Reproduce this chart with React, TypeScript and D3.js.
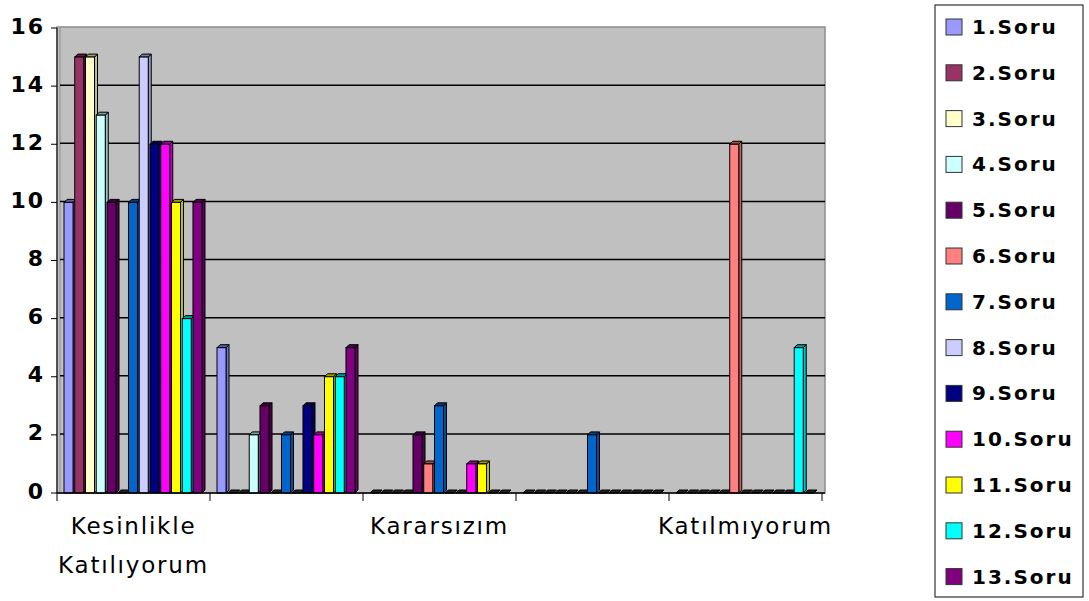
import React from "react";
import * as d3 from "d3";

const categories = [
  "Kesinlikle Katılıyorum",
  "Katılıyorum",
  "Kararsızım",
  "Kesinlikle Katılmıyorum",
  "Katılmıyorum",
];
const shownLabels = [["Kesinlikle", "Katılıyorum"], null, ["Kararsızım"], null, ["Katılmıyorum"]];

const seriesNames = [
  "1.Soru", "2.Soru", "3.Soru", "4.Soru", "5.Soru", "6.Soru", "7.Soru",
  "8.Soru", "9.Soru", "10.Soru", "11.Soru", "12.Soru", "13.Soru",
];
const seriesColors = [
  "#9999FF", "#993366", "#FFFFCC", "#CCFFFF", "#660066", "#FF8080", "#0066CC",
  "#CCCCFF", "#000080", "#FF00FF", "#FFFF00", "#00FFFF", "#800080",
];
const s1 = [10, 5, 0, 0, 0];
const s2 = [15, 0, 0, 0, 0];
const s3 = [15, 0, 0, 0, 0];
const s4 = [13, 2, 0, 0, 0];
const s5 = [10, 3, 2, 0, 0];
const s6 = [0, 0, 1, 0, 12];
const s7 = [10, 2, 3, 2, 0];
const s8 = [15, 0, 0, 0, 0];
const s9 = [12, 3, 0, 0, 0];
const s10 = [12, 2, 1, 0, 0];
const s11 = [10, 4, 1, 0, 0];
const s12 = [6, 4, 0, 0, 5];
const s13 = [10, 5, 0, 0, 0];
const seriesValues = [s1, s2, s3, s4, s5, s6, s7, s8, s9, s10, s11, s12, s13];
const yTicks = [0, 2, 4, 6, 8, 10, 12, 14, 16];

const W = 1089;
const H = 601;
const left = 57;
const right = 822;
const top = 28;
const bottom = 493;
const depth = 3;

export default function App() {
  const x0 = d3.scaleBand<number>().domain(d3.range(categories.length)).range([left, right]).padding(0);
  const x1 = d3
    .scaleBand<number>()
    .domain(d3.range(seriesNames.length))
    .range([7, x0.bandwidth() - 8])
    .paddingInner(0.16)
    .paddingOuter(0);
  const y = d3.scaleLinear().domain([0, 16]).range([bottom, top]);
  const bw = x1.bandwidth();

  const bars: React.ReactNode[] = [];
  categories.forEach((_, ci) => {
    seriesValues.forEach((vals, si) => {
      const v = vals[ci];
      const bx = (x0(ci) as number) + (x1(si) as number);
      const by = y(v);
      const base = y(0);
      const col = d3.color(seriesColors[si])!;
      const darker = col.darker(0.8).formatHex();
      const dark2 = col.darker(1.4).formatHex();
      const key = `${ci}-${si}`;
      if (v === 0) {
        bars.push(
          <polygon
            key={key}
            points={`${bx},${base} ${bx + depth},${base - depth} ${bx + bw + depth},${base - depth} ${bx + bw},${base}`}
            fill="#222"
            stroke="#000"
            strokeWidth={1}
          />
        );
        return;
      }
      bars.push(
        <g key={key} stroke="#000" strokeWidth={1}>
          <polygon
            points={`${bx + bw},${by} ${bx + bw + depth},${by - depth} ${bx + bw + depth},${base - depth} ${bx + bw},${base}`}
            fill={darker}
          />
          <polygon
            points={`${bx},${by} ${bx + depth},${by - depth} ${bx + bw + depth},${by - depth} ${bx + bw},${by}`}
            fill={dark2}
          />
          <rect x={bx} y={by} width={bw} height={base - by} fill={seriesColors[si]} />
        </g>
      );
    });
  });

  const font = "'DejaVu Sans', Verdana, sans-serif";

  return (
    <svg width={W} height={H} style={{ position: "absolute", left: 0, top: 0, background: "#fff" }}>
      {/* back wall */}
      <rect x={left} y={top - 1} width={right - left + 3} height={bottom - top + 1} fill="#C0C0C0" stroke="#8c8c8c" strokeWidth={1.5} />
      <line x1={left + 3} y1={top} x2={left + 3} y2={bottom} stroke="#8c8c8c" strokeWidth={1} />
      {/* gridlines */}
      {yTicks.slice(1, -1).map((t) => (
        <line key={t} x1={left + 3} x2={right + 3} y1={y(t) - 1} y2={y(t) - 1} stroke="#000" strokeWidth={1.5} />
      ))}
      {bars}
      {/* axes */}
      <line x1={left} y1={top} x2={left} y2={bottom} stroke="#000" strokeWidth={1} />
      <line x1={left} y1={bottom} x2={right + 3} y2={bottom} stroke="#000" strokeWidth={1.5} />
      {yTicks.map((t) => (
        <g key={t}>
          <line x1={left - 6} x2={left} y1={y(t)} y2={y(t)} stroke="#000" />
          <text x={left - 12} y={y(t) - 2} textAnchor="end" dominantBaseline="central" fontFamily={font} fontWeight="bold" fontSize={22} letterSpacing={2}>
            {t}
          </text>
        </g>
      ))}
      {d3.range(categories.length + 1).map((i) => {
        const xx = i < categories.length ? (x0(i) as number) : right;
        return <line key={i} x1={xx} x2={xx} y1={bottom} y2={bottom + 8} stroke="#000" />;
      })}
      {shownLabels.map((lines, ci) =>
        lines ? (
          <text key={ci} x={(x0(ci) as number) + x0.bandwidth() / 2} y={526} textAnchor="middle" fontFamily={font} fontSize={23} letterSpacing={1.8} dominantBaseline="central">
            {lines.map((l, li) => (
              <tspan key={li} x={(x0(ci) as number) + x0.bandwidth() / 2} dy={li === 0 ? 0 : 39}>
                {l}
              </tspan>
            ))}
          </text>
        ) : null
      )}
      {/* legend */}
      <rect x={935} y={5} width={148} height={592} fill="#fff" stroke="#333" strokeWidth={1.2} />
      {seriesNames.map((n, i) => {
        const cy = 27 + i * 45.8;
        return (
          <g key={n}>
            <rect x={946} y={cy - 8} width={16} height={16} fill={seriesColors[i]} stroke="#333" strokeWidth={1} />
            <text x={972} y={cy} dominantBaseline="central" fontFamily={font} fontWeight="bold" fontSize={20} letterSpacing={2}>
              {n}
            </text>
          </g>
        );
      })}
    </svg>
  );
}
